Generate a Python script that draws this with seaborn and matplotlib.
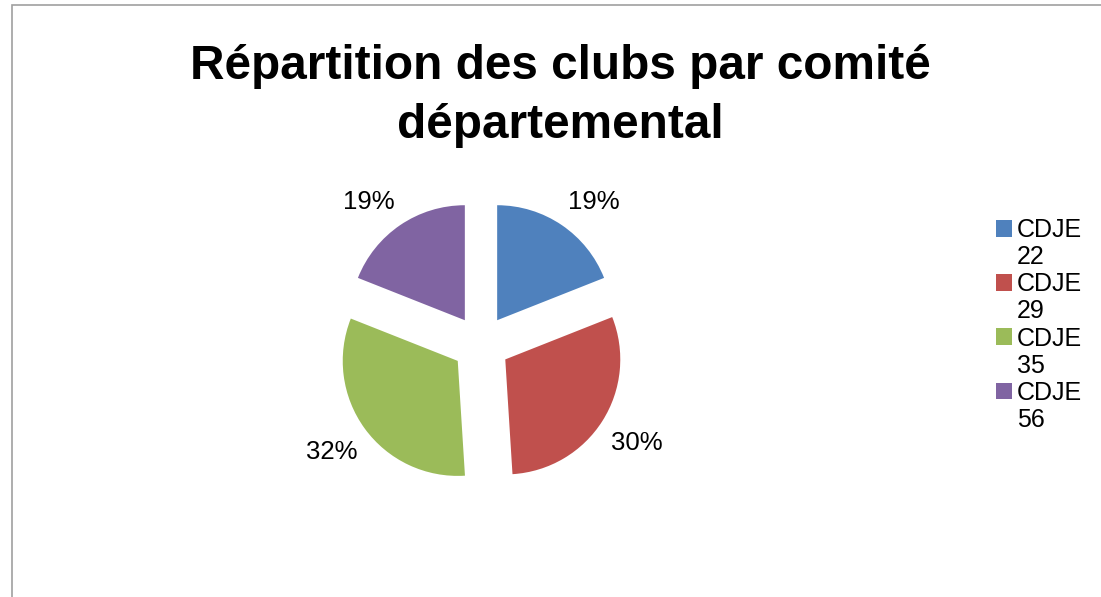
import matplotlib
matplotlib.use("Agg")
import matplotlib.pyplot as plt
from matplotlib.patches import Patch, Rectangle
import seaborn as sns

# data
comites = ["CDJE 22", "CDJE 29", "CDJE 35", "CDJE 56"]
parts = [19, 30, 32, 19]
couleurs = ["#4F81BD", "#C0504D", "#9BBB59", "#8064A2"]
titre = "Répartition des clubs par comité\ndépartemental"

sns.set_style("white")
plt.rcParams['font.family'] = ['Liberation Sans', 'DejaVu Sans']
plt.rcParams['text.color'] = 'black'

W, H = 1101, 597
fig = plt.figure(figsize=(W / 100, H / 100), dpi=100)

# pie axes: centre around (481, 344) px, radius ~115 px
r_px = 115
half = 1.5 * r_px
cx, cy = 481, H - 344
ax = fig.add_axes([(cx - half) / W, (cy - half) / H, 2 * half / W, 2 * half / H])

wedges, texts, autotexts = ax.pie(
    parts,
    colors=couleurs,
    explode=[0.25] * len(parts),
    startangle=90,
    counterclock=False,
    autopct='%1.0f%%',
    pctdistance=1.35,
    wedgeprops={'linewidth': 0},
    textprops={'fontsize': 18.5, 'color': 'black'},
)
# Excel puts the upper labels a little lower and further out
for t in autotexts:
    x, y = t.get_position()
    if y > 0:
        t.set_position((x + 0.08 * (1 if x > 0 else -1), y - 0.09))
ax.set_xlim(-1.5, 1.5)
ax.set_ylim(-1.5, 1.5)
ax.set_aspect('equal')
ax.axis('off')

fig.text(560 / W, 1 - 44 / H, titre, ha='center', va='top', color='black',
         fontsize=34.4, fontweight='bold', linespacing=1.4)

# legend: name on one line, number below it
handles, labels = [], []
for nom, c in zip(comites, couleurs):
    mot, num = nom.split(" ")
    handles.append(Patch(facecolor=c, edgecolor='none'))
    labels.append(mot)
    handles.append(Patch(facecolor='none', edgecolor='none'))
    labels.append(num)

leg = fig.legend(handles, labels, loc='upper left',
                 bbox_to_anchor=(996 / W, 1 - 218 / H),
                 frameon=False, fontsize=18, labelspacing=0.126,
                 borderpad=0, borderaxespad=0, handletextpad=0.2,
                 handlelength=0.65, handleheight=0.65)
for t in leg.get_texts():
    t.set_color('black')

# chart border (only top and left edges fall inside the picture)
fig.add_artist(Rectangle((11.5 / W, -0.1), 1.2, 1.1 - 5.5 / H,
                         transform=fig.transFigure, fill=False,
                         edgecolor='#a0a0a0', linewidth=1.2))

fig.savefig("out.png", dpi=100)
